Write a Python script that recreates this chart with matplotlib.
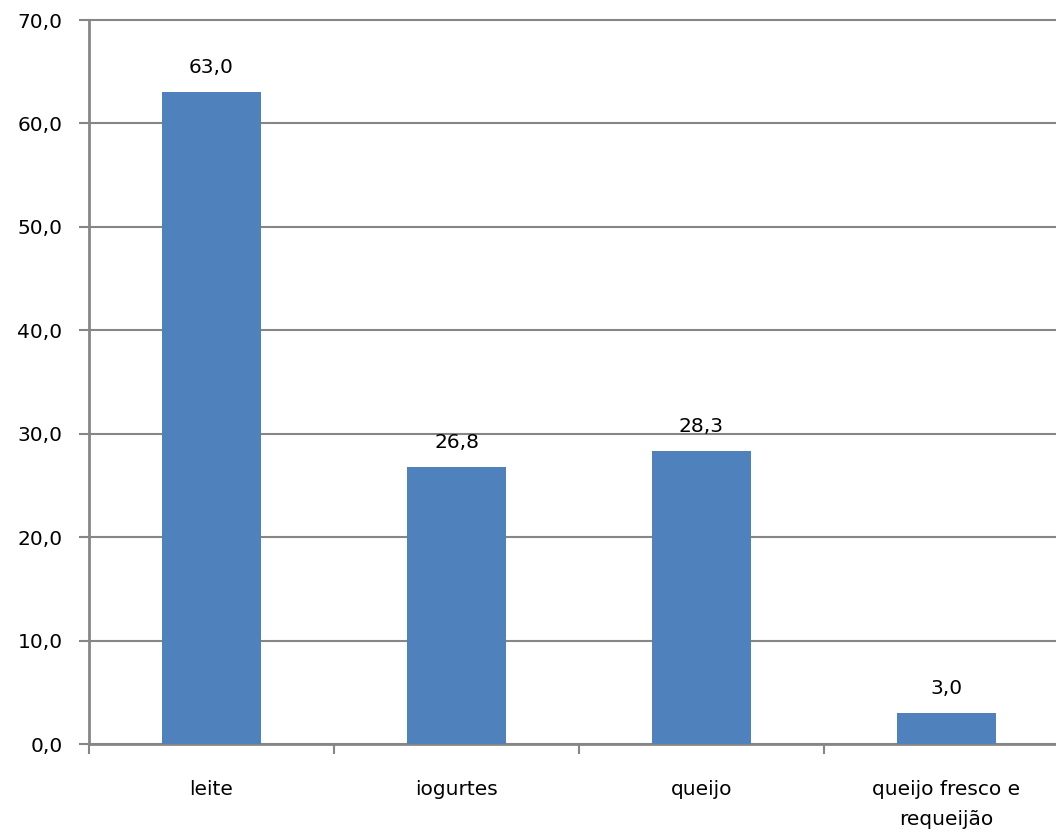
import matplotlib
matplotlib.use("Agg")
import matplotlib.pyplot as plt
from matplotlib.ticker import FixedLocator, FuncFormatter

categories = ["leite", "iogurtes", "queijo", "queijo fresco e\nrequeijão"]
values = [63.0, 26.8, 28.3, 3.0]
yticks = [0, 10, 20, 30, 40, 50, 60, 70]

plt.rcParams['font.family'] = ['DejaVu Sans']

fig = plt.figure(figsize=(10.56, 8.34), dpi=100)
ax = fig.add_axes([89/1056, 90/834, 980/1056, 724/834])

x = list(range(len(categories)))
grey = "#868686"
bars = ax.bar(x, values, width=0.405, color="#4F81BD", zorder=3)

ax.set_xlim(-0.5, len(categories) - 0.5)
ax.set_ylim(0, 70)
ax.set_yticks(yticks)
ax.yaxis.set_major_formatter(FuncFormatter(lambda v, p: f"{v:.1f}".replace(".", ",")))
ax.grid(axis="y", color=grey, linewidth=1.5, zorder=0)
ax.set_axisbelow(True)
for gl in ax.yaxis.get_gridlines():
    gl.set_clip_on(False)

ax.set_xticks(x)
ax.set_xticklabels(categories, fontsize=14.5, linespacing=1.75)
ax.xaxis.set_minor_locator(FixedLocator([i - 0.5 for i in range(len(categories) + 1)]))
ax.tick_params(axis="x", which="major", length=0, pad=26)
ax.tick_params(axis="x", which="minor", length=7, width=1.5, color=grey)
ax.tick_params(axis="y", length=7, width=1.5, color=grey, labelsize=14.5, pad=12)

for s in ["top", "right"]:
    ax.spines[s].set_visible(False)
for s in ["left", "bottom"]:
    ax.spines[s].set_color(grey)
    ax.spines[s].set_linewidth(2)

for xi, v in zip(x, values):
    ax.annotate(f"{v:.1f}".replace(".", ","), (xi, v), xytext=(0, 11),
                textcoords="offset points", ha="center", va="bottom", fontsize=14.5)

fig.savefig("out.png", dpi=100)
